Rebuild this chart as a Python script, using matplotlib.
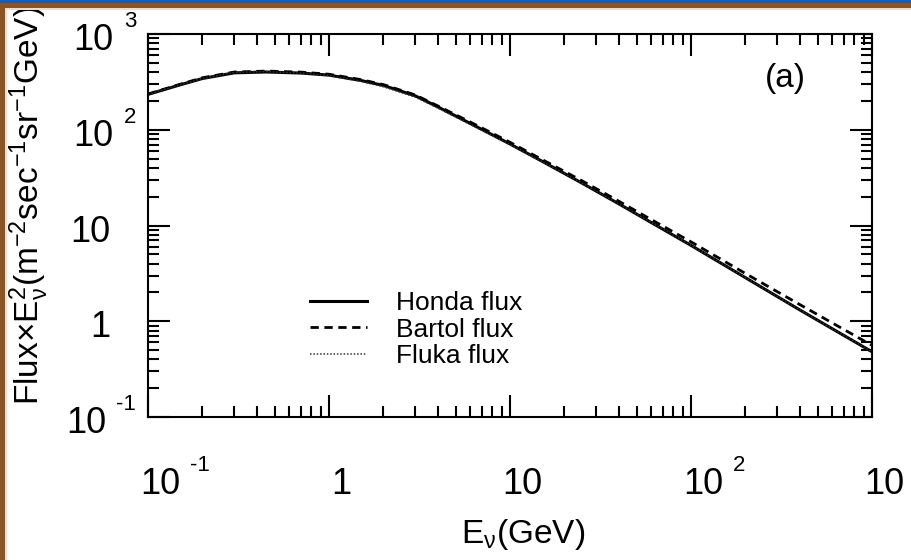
import matplotlib
matplotlib.use("Agg")
import matplotlib.pyplot as plt
from matplotlib.patches import Rectangle
from matplotlib.transforms import blended_transform_factory, ScaledTranslation

plt.rcParams['font.family'] = ['Liberation Sans', 'DejaVu Sans']
plt.rcParams['mathtext.fontset'] = 'custom'
plt.rcParams['mathtext.rm'] = 'Liberation Sans'
plt.rcParams['mathtext.it'] = 'Liberation Sans:italic'
plt.rcParams['mathtext.bf'] = 'Liberation Sans:bold'
plt.rcParams['mathtext.sf'] = 'Liberation Sans'
plt.rcParams['mathtext.default'] = 'regular'

# Neutrino energy grid (GeV) and E^2-weighted fluxes (m^-2 s^-1 sr^-1 GeV)
energy = [0.1, 0.15, 0.2, 0.3, 0.45, 0.7, 1.0, 1.5, 2.0, 3.0, 4.0, 6.0,
          10, 15, 25, 40, 60, 100, 200, 400, 1000]
honda = [234, 294, 343, 393, 401, 391, 372, 327, 290, 226, 173, 117,
         71, 47, 27.7, 16.8, 10.8, 6.2, 2.85, 1.31, 0.48]
bartol = [236, 298, 349, 401, 410, 400, 380, 334, 296, 231, 177, 121,
          74, 49, 29.3, 17.9, 11.6, 6.75, 3.15, 1.49, 0.56]
fluka = [234, 294, 343, 397, 405, 391, 368, 320, 281, 219, 168, 114,
         70, 46.5, 27.7, 16.8, 10.8, 6.2, 2.85, 1.31, 0.48]

tick_values = [0.1, 1, 10, 100, 1000]
tick_bases = ['10', '1', '10', '10', '10']
tick_exps = ['-1', '', '', '2', '3']

W, H, DPI = 911, 560, 100
fig = plt.figure(figsize=(W / DPI, H / DPI), dpi=DPI)
fig.patch.set_facecolor('white')

# slide frame
fig.add_artist(Rectangle((0, 1 - 3 / H), 1, 3 / H, transform=fig.transFigure,
                         color='#0b5fc6', lw=0))
fig.add_artist(Rectangle((0, 1 - 8 / H), 1, 5 / H, transform=fig.transFigure,
                         color='#8a5424', lw=0))
fig.add_artist(Rectangle((0, 1 - 9.5 / H), 1, 1.5 / H, transform=fig.transFigure,
                         color='#f2dcc6', lw=0))
fig.add_artist(Rectangle((0, 0), 5 / W, 1 - 3 / H, transform=fig.transFigure,
                         color='#8a5424', lw=0))
fig.add_artist(Rectangle((5 / W, 0), 1.5 / W, 1 - 9.5 / H, transform=fig.transFigure,
                         color='#f2dcc6', lw=0))

ax_l, ax_r, ax_t, ax_b = 148, 872, 34, 417
ax = fig.add_axes([ax_l / W, 1 - ax_b / H, (ax_r - ax_l) / W, (ax_b - ax_t) / H])

ax.plot(energy, honda, color='black', lw=2.2, label='Honda flux')
ax.plot(energy, bartol, color='black', lw=2.0, ls=(0, (3, 2)), label='Bartol flux')
ax.plot(energy, fluka, color='#333333', lw=1.1, ls=(0, (1, 1.2)), label='Fluka flux')

ax.set_xscale('log')
ax.set_yscale('log')
ax.set_xlim(0.1, 1000)
ax.set_ylim(0.1, 1000)

for s in ax.spines.values():
    s.set_linewidth(1.5)
ax.tick_params(which='both', direction='in', top=True, right=True,
               labelbottom=False, labelleft=False, width=1.5)
ax.tick_params(which='major', length=16)
ax.tick_params(which='minor', length=8)

px = lambda dx, dy: ScaledTranslation(dx / DPI, dy / DPI, fig.dpi_scale_trans)
tr_x = blended_transform_factory(ax.transData, ax.transAxes)
tr_y = blended_transform_factory(ax.transAxes, ax.transData)

BASE_FS, EXP_FS = 26, 16

# x tick labels: base centred just right of the tick, exponent trailing
for v, b, e in zip(tick_values, tick_bases, tick_exps):
    t = ax.text(v, 0, b, transform=tr_x + px(12, -77), ha='center',
                va='baseline', fontsize=BASE_FS, clip_on=False)
    if e:
        ax.annotate(e, xy=(1, 0), xycoords=t, xytext=(10, 31),
                    textcoords='offset pixels', ha='left', va='baseline',
                    fontsize=EXP_FS, annotation_clip=False)

# y tick labels
for v, b, e in zip(tick_values, tick_bases, tick_exps):
    if e:
        s = ax.text(0, v, e, transform=tr_y + px(-12, 7), ha='right',
                    va='baseline', fontsize=EXP_FS, clip_on=False)
        ax.annotate(b, xy=(0, 0), xycoords=s, xytext=(-10, -18),
                    textcoords='offset pixels', ha='right', va='baseline',
                    fontsize=BASE_FS, annotation_clip=False)
    else:
        ax.text(0, v, b, transform=tr_y + px(-38, -16), ha='right',
                va='baseline', fontsize=BASE_FS, clip_on=False)

ax.set_xlabel(r'E$_{\nu}$(GeV)', fontsize=24)
ax.xaxis.set_label_coords((523 - ax_l) / (ax_r - ax_l), (ax_b - 535) / (ax_b - ax_t))
ax.xaxis.label.set_va('center')

ax.set_ylabel(r'Flux$\times$E$_{\nu}^{2}$(m$^{-2}$sec$^{-1}$sr$^{-1}$GeV)', fontsize=24,
              va='center')
ax.yaxis.set_label_coords((29 - ax_l) / (ax_r - ax_l), (ax_b - 205) / (ax_b - ax_t))

ax.text((785 - ax_l) / (ax_r - ax_l), (ax_b - 78) / (ax_b - ax_t), '(a)',
        transform=ax.transAxes, ha='center', va='center', fontsize=24)

leg = ax.legend(loc='upper left',
                bbox_to_anchor=((310 - ax_l) / (ax_r - ax_l), (ax_b - 291) / (ax_b - ax_t)),
                frameon=False, fontsize=19, handlelength=2.15, handletextpad=1.12,
                labelspacing=0.1, borderpad=0, borderaxespad=0)

fig.savefig('out.png', dpi=DPI)
